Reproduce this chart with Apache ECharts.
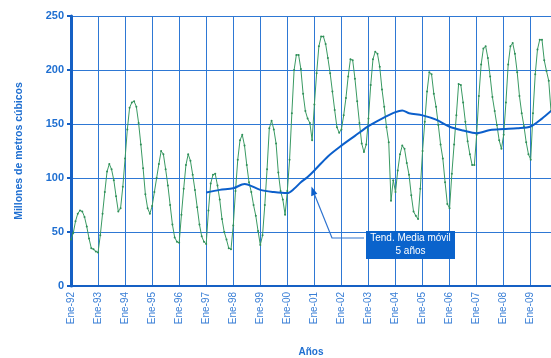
<!DOCTYPE html>
<html>
<head>
<meta charset="utf-8">
<script src="https://cdn.jsdelivr.net/npm/echarts@6/dist/echarts.min.js"></script>
<style>
html,body{margin:0;padding:0;background:#fff;overflow:hidden;}
#chart{width:551px;height:358px;}
</style>
</head>
<body>
<div id="chart"></div>
<script>
// ---- data ----
const meses = ['Ene','Feb','Mar','Abr','May','Jun','Jul','Ago','Sep','Oct','Nov','Dic'];
const anios = ['92','93','94','95','96','97','98','99','00','01','02','03','04','05','06','07','08','09'];
const ultimoMes2009 = 10; // data through Oct-09

// monthly volume (millones de m3), Jan-92 .. Oct-09
const v1992 = [43, 49, 60, 67, 70, 69, 64, 55, 44, 35, 34, 32];
const v1993 = [31, 47, 67, 87, 106, 113, 108, 98, 83, 69, 72, 92];
const v1994 = [118, 145, 165, 170, 171, 166, 151, 131, 109, 85, 72, 67];
const v1995 = [74, 87, 100, 113, 125, 122, 108, 93, 75, 57, 45, 41];
const v1996 = [40, 66, 90, 112, 122, 116, 103, 89, 73, 57, 46, 41];
const v1997 = [39, 70, 95, 103, 104, 93, 80, 62, 50, 43, 35, 34];
const v1998 = [56, 88, 117, 135, 140, 130, 112, 96, 87, 75, 65, 51];
const v1999 = [38, 47, 75, 108, 146, 153, 145, 132, 105, 88, 80, 66];
const v2000 = [88, 117, 160, 200, 214, 214, 201, 178, 162, 155, 151, 135];
const v2001 = [168, 197, 222, 231, 231, 224, 211, 197, 180, 163, 147, 142];
const v2002 = [145, 158, 174, 194, 210, 209, 192, 171, 151, 132, 124, 131];
const v2003 = [155, 186, 210, 217, 215, 203, 182, 166, 147, 133, 79, 98];
const v2004 = [87, 107, 122, 130, 127, 114, 103, 84, 69, 65, 62, 90];
const v2005 = [125, 152, 180, 198, 196, 178, 166, 149, 131, 118, 96, 76];
const v2006 = [72, 104, 131, 158, 187, 186, 170, 152, 134, 122, 112, 112];
const v2007 = [140, 176, 205, 220, 222, 211, 194, 175, 162, 149, 135, 127];
const v2008 = [140, 170, 205, 222, 225, 215, 198, 176, 160, 148, 133, 122];
const v2009 = [117, 160, 196, 219, 228, 228, 209, 199, 190, 162];

// 5-year moving average, read at selected months
const mediaMeses = ['Ene-97','Jul-97','Ene-98','Jun-98','Ene-99','Jul-99','Ene-00','Abr-00','Jul-00','Oct-00',
  'Ene-01','Jul-01','Ene-02','Jul-02','Ene-03','Jul-03','Ene-04','Abr-04','Jul-04','Ene-05','Jul-05',
  'Ene-06','Jul-06','Ene-07','Jul-07','Ene-08','Jul-08','Ene-09','Jun-09','Oct-09'];
const mediaValores = [86.5, 89, 90.5, 94.5, 89, 87, 86, 90, 96, 101,
  107, 120, 130, 139, 148, 155, 161, 162.5, 160, 158, 154,
  147.5, 144, 141.5, 144.5, 145.3, 146, 147.7, 155, 162];

const yTicks = { min: 0, max: 250, interval: 50 };

// ---- build ----
const categorias = [];
anios.forEach((a, i) => {
  const n = (i === anios.length - 1) ? ultimoMes2009 : 12;
  for (let m = 0; m < n; m++) categorias.push(meses[m] + '-' + a);
});
const mensual = [].concat(v1992, v1993, v1994, v1995, v1996, v1997, v1998, v1999, v2000,
  v2001, v2002, v2003, v2004, v2005, v2006, v2007, v2008, v2009);
const media = mediaMeses.map((c, i) => [c, mediaValores[i]]);

const azul = '#1f6fd1';
const font = 'Liberation Sans, Arial, sans-serif';
const esEne = (idx) => idx % 12 === 0;

const el = document.getElementById('chart');
const chart = echarts.init(el, null, {renderer: 'canvas', width: 551, height: 358});
chart.setOption({
  animation: false,
  backgroundColor: '#ffffff',
  grid: { left: 71, right: 0, top: 16, bottom: 72, containLabel: false, outerBoundsMode: 'none' },
  xAxis: {
    type: 'category',
    data: categorias,
    boundaryGap: false,
    name: 'Años',
    nameLocation: 'middle',
    nameGap: 61,
    nameTextStyle: { color: azul, fontSize: 10, fontWeight: 'bold', fontFamily: font },
    axisLine: { show: true, lineStyle: { color: '#1560c4', width: 2 } },
    axisTick: { show: false },
    axisLabel: {
      interval: (idx) => esEne(idx),
      rotate: 90,
      margin: 6,
      color: '#3a7fd6',
      fontSize: 10,
      fontFamily: font
    },
    splitLine: { show: true, interval: (idx) => esEne(idx) && idx > 0, lineStyle: { color: '#2e78d4', width: 1 } }
  },
  yAxis: {
    type: 'value',
    min: yTicks.min, max: yTicks.max, interval: yTicks.interval,
    name: 'Millones de metros cúbicos',
    nameLocation: 'middle',
    nameGap: 46,
    nameTextStyle: { color: azul, fontSize: 10.5, fontWeight: 'bold', fontFamily: font },
    axisLine: { show: true, lineStyle: { color: '#1560c4', width: 3 } },
    axisTick: { show: true, length: 4, lineStyle: { color: '#1560c4', width: 2 } },
    axisLabel: { color: azul, fontSize: 11, fontWeight: 'bold', fontFamily: font, margin: 7 },
    splitLine: { show: true, lineStyle: { color: '#2e78d4', width: 1 } }
  },
  series: [
    {
      name: 'Mensual',
      type: 'line',
      data: mensual,
      symbol: 'circle',
      symbolSize: 2,
      showSymbol: true,
      showAllSymbol: true,
      lineStyle: { color: '#3a9a63', width: 1 },
      itemStyle: { color: '#2f8f58' },
      z: 2
    },
    {
      name: 'Tend. Media móvil 5 años',
      type: 'line',
      data: media,
      smooth: 0.3,
      symbol: 'none',
      lineStyle: { color: '#0b5fcb', width: 2 },
      z: 3
    }
  ],
  graphic: [
    { type: 'polyline', shape: { points: [[364, 238], [332, 238], [313.5, 192]] },
      style: { stroke: '#2f74d0', lineWidth: 1.2, fill: null }, z: 10 },
    { type: 'polygon', shape: { points: [[311.5, 186.5], [317.3, 193.8], [311.2, 196.2]] },
      style: { fill: '#0b5fcb' }, z: 10 },
    { type: 'rect', shape: { x: 366, y: 231, width: 89, height: 28 },
      style: { fill: '#0a63cc' }, z: 10 },
    { type: 'text', x: 410.5, y: 245, z: 11,
      style: { text: 'Tend. Media móvil\n5 años', fill: '#ffffff', font: '10px ' + font,
               textAlign: 'center', textVerticalAlign: 'middle', lineHeight: 13 } }
  ]
});
</script>
</body>
</html>
